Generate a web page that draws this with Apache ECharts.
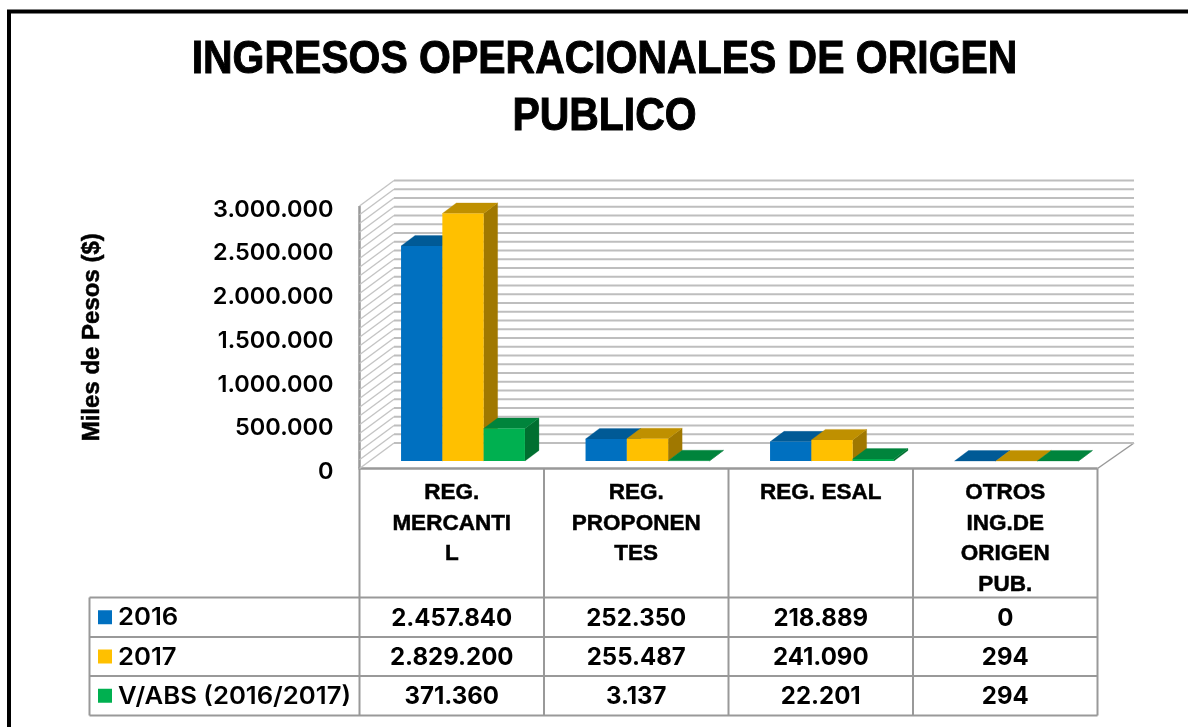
<!DOCTYPE html>
<html><head><meta charset="utf-8">
<style>html,body{margin:0;padding:0;background:#fff}#c{width:1188px;height:727px}</style>
<script src="https://cdn.jsdelivr.net/npm/echarts@6/dist/echarts.min.js"></script></head>
<body><div id="c"></div>
<script>
const titleText = 'INGRESOS OPERACIONALES DE ORIGEN\nPUBLICO';
const yAxisName = 'Miles de Pesos ($)';
const categories = ['REG.\nMERCANTI\nL', 'REG.\nPROPONEN\nTES', 'REG. ESAL', 'OTROS\nING.DE\nORIGEN\nPUB.'];
const seriesNames = ['2016', '2017', 'V/ABS (2016/2017)'];
const values2016 = [2457840, 252350, 218889, 0];
const values2017 = [2829200, 255487, 241090, 294];
const valuesAbs = [371360, 3137, 22201, 294];
const faceColors = ['#0070C0', '#FFC000', '#00B050'];
const topColors = ['#005A96', '#BF9000', '#00843C'];
const sideColors = ['#004F86', '#A07800', '#006F30'];
const allValues = [values2016, values2017, valuesAbs];

const fmt = v => String(v).replace(/\B(?=(\d{3})+$)/g, '.');
const gridLeft = 359.5, gridRight = 1097.5, gridTop = 206, gridBottom = 468.5;
const wallDX = 34.5, wallDY = 25.5;
const barDX = 14, barDY = 10.5;
const barW = 41.3;
const digitFont = 'Inter, "Liberation Sans", sans-serif';
const labelFont = '"Liberation Sans", sans-serif';
const tickValues = [];
for (let i = 0; i <= 30; i++) tickValues.push(i * 100000);

function poly(points, color) {
  return { type: 'polygon', shape: { points }, style: { fill: color, stroke: color, lineWidth: 0.3 } };
}
function wallItem(params, api) {
  const v = api.value(1);
  const y = api.coord([0, v])[1];
  const line = (x1, y1, x2, y2, w, c) => ({ type: 'line', shape: { x1, y1, x2, y2 }, style: { stroke: c, lineWidth: w } });
  const s = params.coordSys;
  const l = s.x, r = s.x + s.width;
  return { type: 'group', children: [
    line(l, y, l + wallDX, y - wallDY, 1.4, '#C4C4C4'),
    line(l + wallDX, y - wallDY, r + wallDX + 2, y - wallDY, 2.2, '#BEBEBE')
  ] };
}
function barItem(si) {
  return function (params, api) {
    const idx = api.value(0), val = api.value(1);
    const base = api.coord([idx, 0]), top = api.coord([idx, val]);
    const depthX = (wallDX - barDX) / 2, depthY = (wallDY - barDY) / 2;
    const x0 = base[0] + depthX + 1 - 1.5 * barW + si * barW;
    const x1 = x0 + barW;
    const yb = base[1] - depthY, yt = top[1] - depthY;
    const kids = [];
    kids.push(poly([[x1, yb], [x1 + barDX, yb - barDY], [x1 + barDX, yt - barDY], [x1, yt]], sideColors[si]));
    kids.push(poly([[x0, yt], [x1, yt], [x1 + barDX, yt - barDY], [x0 + barDX, yt - barDY]], topColors[si]));
    if (yb - yt > 0.2) kids.push({ type: 'rect', shape: { x: x0, y: yt, width: barW, height: yb - yt }, style: { fill: faceColors[si] } });
    return { type: 'group', children: kids };
  };
}

const gray = '#999999';
const colX = [gridLeft, 544, 728.5, 913, gridRight];
const rowY = [597.5, 637, 676, 715.5];
const legendLeft = 89.5;
const g = [];
const L = (x1, y1, x2, y2, w) => g.push({ type: 'line', z: 1, shape: { x1, y1, x2, y2 }, style: { stroke: gray, lineWidth: w || 2 } });
// outer frame
g.push({ type: 'polyline', shape: { points: [[9, 727], [9, 11.5], [1188, 11.5]] }, style: { stroke: '#000', lineWidth: 4, fill: null } });
// title
g.push({ type: 'text', x: 604.5, y: 31.5, scaleX: 0.89, style: { text: titleText, font: 'bold 46px "Liberation Sans", sans-serif', lineHeight: 57, fill: '#000', stroke: '#000', lineWidth: 1, textAlign: 'center', textVerticalAlign: 'top' } });
// table
rowY.forEach(y => L(legendLeft, y, gridRight, y));
colX.forEach(x => L(x, gridBottom, x, rowY[3]));
L(legendLeft, rowY[0], legendLeft, rowY[3]);
seriesNames.forEach((name, r) => {
  const cy = (rowY[r] + rowY[r + 1]) / 2;
  g.push({ type: 'rect', shape: { x: 98, y: cy - 7, width: 14, height: 14 }, style: { fill: faceColors[r] } });
  g.push({ type: 'text', x: 118, y: cy + 1, scaleX: 1.07, style: { text: name, font: '600 24px ' + digitFont, fill: '#000', textAlign: 'left', textVerticalAlign: 'middle' } });
  allValues[r].forEach((v, c) => {
    g.push({ type: 'text', x: (colX[c] + colX[c + 1]) / 2, y: cy + 1.5, style: { text: fmt(v), font: '700 24px ' + digitFont, fill: '#000', textAlign: 'center', textVerticalAlign: 'middle' } });
  });
});
// floor and wall edges
L(gridLeft, gridTop, gridLeft, gridBottom, 2.5);
L(gridLeft - 1, gridBottom, gridRight, gridBottom, 2.5);
L(gridRight, gridBottom, gridRight + wallDX + 2, gridBottom - wallDY, 1.5);

const chart = echarts.init(document.getElementById('c'), null, { renderer: 'canvas' });
const customSeries = allValues.map((vals, si) => ({
  name: seriesNames[si], type: 'custom', z: 5 + si,
  renderItem: barItem(si), encode: { x: 0, y: 1 },
  data: vals.map((v, i) => [i, v]), animation: false, clip: false
}));
chart.setOption({
  animation: false,
  backgroundColor: '#fff',
  grid: { left: gridLeft, right: 1188 - gridRight, top: gridTop, bottom: 727 - gridBottom, containLabel: false },
  xAxis: { type: 'category', data: categories, boundaryGap: true,
    axisLine: { show: false }, axisTick: { show: false }, splitLine: { show: false },
    axisLabel: { interval: 0, margin: 9.5, verticalAlign: 'top', fontFamily: labelFont, fontWeight: 'bold', fontSize: 22.5, lineHeight: 30.5, color: '#000', align: 'center', textBorderColor: '#000', textBorderWidth: 0.5 } },
  yAxis: { type: 'value', min: 0, max: 3000000, interval: 500000,
    name: yAxisName, nameLocation: 'middle', nameRotate: 90, nameGap: 255,
    nameTextStyle: { fontFamily: labelFont, fontWeight: 'bold', fontSize: 24, color: '#000', textBorderColor: '#000', textBorderWidth: 0.5 },
    axisLine: { show: false }, axisTick: { show: false }, splitLine: { show: false },
    axisLabel: { margin: 26, verticalAlign: 'top', lineHeight: 7, fontFamily: digitFont, fontWeight: 600, fontSize: 23.5, color: '#000', formatter: v => fmt(v) } },
  series: [
    { name: 'wall', type: 'custom', z: 2, silent: true, renderItem: wallItem, encode: { x: 0, y: 1 }, clip: false,
      data: tickValues.map(v => [0, v]) },
    ...customSeries
  ],
  graphic: g
});
</script></body></html>
